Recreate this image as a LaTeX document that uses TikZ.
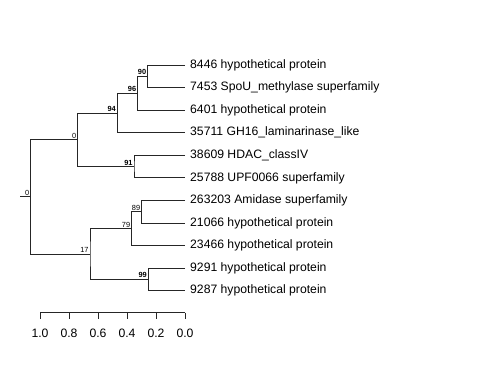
\documentclass[tikz,border=0pt]{standalone}
\usepackage{fontspec}
\setmainfont{Liberation Sans}
\begin{document}
\begin{tikzpicture}[x=1pt,y=-1pt,
  branch/.style={draw=black!85,line width=0.9pt},
  leaflab/.style={anchor=west,inner sep=0pt,font=\fontsize{12.2}{14}\selectfont},
  boot/.style={anchor=south east,inner xsep=1.3pt,inner ysep=1.3pt,font=\fontsize{7.4}{8}\selectfont},
  bootb/.style={boot,font=\fontsize{7.4}{8}\selectfont\bfseries},
  axlab/.style={anchor=center,inner sep=0pt,font=\fontsize{12.2}{14}\selectfont}]
\useasboundingbox (0,0) rectangle (480,384);
% leaves
\coordinate (a1) at (185,65);
\coordinate (a2) at (185,87.57);
\coordinate (a3) at (185,110.1);
\coordinate (a4) at (185,132.7);
\coordinate (a5) at (185,155.3);
\coordinate (a6) at (185,177.9);
\coordinate (a7) at (185,200.4);
\coordinate (a8) at (185,223);
\coordinate (a9) at (185,245.6);
\coordinate (a10) at (185,268.1);
\coordinate (a11) at (185,290.7);
\node[leaflab] (t1) at (190,65) {8446 hypothetical protein};
\node[leaflab] (t2) at (190,87.57) {7453 SpoU\_methylase superfamily};
\node[leaflab] (t3) at (190,110.1) {6401 hypothetical protein};
\node[leaflab] (t4) at (190,132.7) {35711 GH16\_laminarinase\_like};
\node[leaflab] (t5) at (190,155.3) {38609 HDAC\_classIV};
\node[leaflab] (t6) at (190,177.9) {25788 UPF0066 superfamily};
\node[leaflab] (t7) at (190,200.4) {263203 Amidase superfamily};
\node[leaflab] (t8) at (190,223) {21066 hypothetical protein};
\node[leaflab] (t9) at (190,245.6) {23466 hypothetical protein};
\node[leaflab] (t10) at (190,268.1) {9291 hypothetical protein};
\node[leaflab] (t11) at (190,290.7) {9287 hypothetical protein};
% internal nodes
\coordinate (n90) at (147.7,76.3);
\coordinate (n96) at (137.7,93.2);
\coordinate (n94) at (117.3,112.95);
\coordinate (n91) at (134,166.6);
\coordinate (n0) at (77.7,139.8);
\coordinate (n89) at (141.7,211.7);
\coordinate (n79) at (131.7,228.65);
\coordinate (n99) at (148.3,279.4);
\coordinate (n17) at (90,254);
\coordinate (root) at (30.7,196.9);
\coordinate (stub) at (20,196.9);
% branches
\draw[branch] (a1) -| (n90) |- (a2);
\draw[branch] (n90) -| (n96) |- (a3);
\draw[branch] (n96) -| (n94) |- (a4);
\draw[branch] (a5) -| (n91) |- (a6);
\draw[branch] (n94) -| (n0) |- (n91);
\draw[branch] (a7) -| (n89) |- (a8);
\draw[branch] (n89) -| (n79) |- (a9);
\draw[branch] (a10) -| (n99) |- (a11);
\draw[branch] (n79) -| (n17) |- (n99);
\draw[branch] (n0) -| (root) |- (n17);
\draw[branch] (stub) -- (root);
% support labels
\node[bootb] (b90) at (n90) {90};
\node[bootb] (b96) at (n96) {96};
\node[bootb] (b94) at (n94) {94};
\node[bootb] (b91) at (n91) {91};
\node[boot] (b0) at (n0) {0};
\node[boot] (b89) at (n89) {89};
\node[boot] (b79) at (n79) {79};
\node[bootb] (b99) at (n99) {99};
\node[boot] (b17) at (n17) {17};
\node[boot] (broot) at (root) {0};
% axis
\draw[branch] (40,312.7) -- (185,312.7);
\foreach \v/\lab [count=\i] in {0/1.0,0.2/0.8,0.4/0.6,0.6/0.4,0.8/0.2,1/0.0}{
  \draw[branch] ({40+145*\v},312.7) -- ({40+145*\v},318.5);
  \node[axlab] (ax\i) at ({40+145*\v},333.3) {\lab};
}
\end{tikzpicture}
\end{document}
